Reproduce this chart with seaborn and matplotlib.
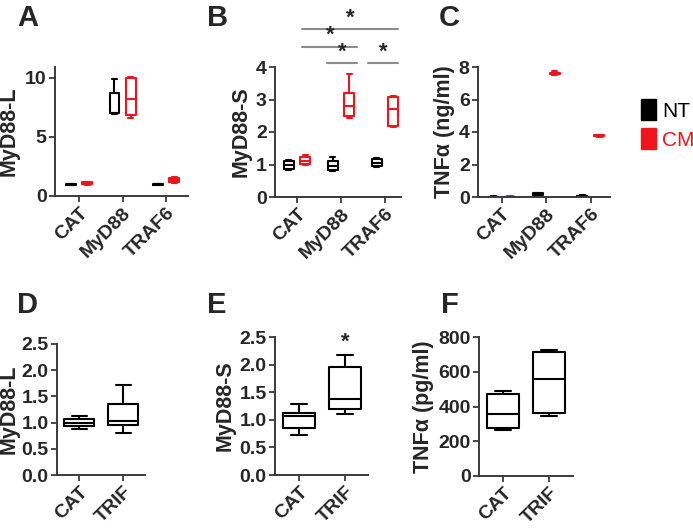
import pandas as pd
import numpy as np
import matplotlib
matplotlib.use("Agg")
import matplotlib.pyplot as plt
import seaborn as sns
from matplotlib.patches import Patch

# valores (min, q1, mediana, q3, max por caja)
groups_top = ["CAT", "MyD88", "TRAF6"]
groups_bot = ["CAT", "TRIF"]
treatments = ["NT", "CM"]

myd88_l_nt = [[0.93, 0.97, 1.0, 1.02, 1.05], [6.95, 7.0, 7.05, 8.7, 9.9], [0.92, 0.96, 0.98, 1.0, 1.03]]
myd88_l_cm = [[0.95, 1.0, 1.08, 1.15, 1.2], [6.55, 6.85, 8.2, 9.95, 10.05], [1.1, 1.2, 1.35, 1.5, 1.6]]

myd88_s_nt = [[0.83, 0.86, 0.97, 1.1, 1.13], [0.8, 0.84, 0.96, 1.1, 1.24], [0.92, 0.95, 1.06, 1.17, 1.2]]
myd88_s_cm = [[0.98, 1.02, 1.12, 1.22, 1.3], [2.42, 2.48, 2.8, 3.2, 3.8], [2.15, 2.2, 2.72, 3.08, 3.12]]

tnf_ng_nt = [[0.0, 0.01, 0.02, 0.03, 0.04], [0.08, 0.1, 0.15, 0.22, 0.25], [0.02, 0.04, 0.06, 0.08, 0.1]]
tnf_ng_cm = [[0.0, 0.01, 0.02, 0.03, 0.05], [7.5, 7.55, 7.6, 7.65, 7.75], [3.7, 3.73, 3.76, 3.8, 3.82]]

d_myd88_l = [[0.87, 0.94, 1.0, 1.06, 1.13], [0.8, 0.95, 1.04, 1.36, 1.71]]
e_myd88_s = [[0.72, 0.85, 1.07, 1.13, 1.28], [1.1, 1.2, 1.37, 1.95, 2.17]]
f_tnf_pg = [[267, 274, 355, 470, 489], [343, 364, 560, 714, 723]]

palette = {"NT": "black", "CM": "#f0141c"}

sns.set_style("ticks")
plt.rcParams["font.family"] = ["Liberation Sans", "DejaVu Sans"]
plt.rcParams["font.weight"] = "bold"

W, H = 693, 529
fig = plt.figure(figsize=(W / 100, H / 100), dpi=100)


def px_axes(l, t, r, b):
    return fig.add_axes([l / W, 1 - b / H, (r - l) / W, (b - t) / H])


def long_df(groups, nt, cm):
    rows = []
    for g, vals in zip(groups, nt):
        rows += [(g, "NT", v) for v in vals]
    for g, vals in zip(groups, cm):
        rows += [(g, "CM", v) for v in vals]
    return pd.DataFrame(rows, columns=["grupo", "trat", "valor"])


def simple_df(groups, data):
    rows = []
    for g, vals in zip(groups, data):
        rows += [(g, v) for v in vals]
    return pd.DataFrame(rows, columns=["grupo", "valor"])


def style_ax(ax, ylabel, yticks, ylim, xlim, yfmt, label_x=None):
    sns.despine(ax=ax)
    for s in ["left", "bottom"]:
        ax.spines[s].set_linewidth(1.4)
        ax.spines[s].set_color("#3a3a3a")
    ax.tick_params(direction="out", length=4, width=1.3, color="#3a3a3a", pad=2)
    ax.set_ylim(*ylim)
    ax.set_xlim(*xlim)
    ax.set_yticks(yticks)
    ax.set_yticklabels([yfmt.format(t) for t in yticks], fontsize=14, fontweight="bold")
    ax.set_xlabel("")
    ax.set_ylabel(ylabel, fontsize=15.5, fontweight="bold", labelpad=3)
    if label_x is not None:
        # borde derecho de la etiqueta en píxeles de la figura
        l = ax.get_position().x0 * W
        w = ax.get_position().width * W
        ax.yaxis.set_label_coords((label_x - l) / w, 0.5)
    ax.tick_params(axis="x", labelrotation=45, labelsize=14)
    plt.setp(ax.get_xticklabels(), ha="right", rotation_mode="anchor", fontweight="bold")
    if ax.get_legend() is not None:
        ax.get_legend().remove()


def hue_box(ax, df):
    sns.boxplot(data=df, x="grupo", y="valor", hue="trat", hue_order=treatments,
                palette=palette, fill=False, whis=(0, 100), width=0.75, gap=0.4,
                linewidth=1.5, ax=ax, legend=False)


def plain_box(ax, df):
    sns.boxplot(data=df, x="grupo", y="valor", color="black", fill=False,
                whis=(0, 100), width=0.68, linewidth=1.5, ax=ax)


# Panel A
ax_a = px_axes(55, 67, 188, 196)
hue_box(ax_a, long_df(groups_top, myd88_l_nt, myd88_l_cm))
style_ax(ax_a, "MyD88-L", [0, 5, 10], (0, 10.9), (-0.55, 2.5), "{:d}", label_x=20)

# Panel B
ax_b = px_axes(275, 67, 401, 197)
hue_box(ax_b, long_df(groups_top, myd88_s_nt, myd88_s_cm))
style_ax(ax_b, "MyD88-S", [0, 1, 2, 3, 4], (0, 4), (-0.5, 2.36), "{:d}")

# barras de significancia
sig = [(0.12, 2.3, 5.17), (0.12, 1.37, 4.62), (0.69, 1.37, 4.11), (1.62, 2.3, 4.11)]
for x0, x1, y in sig:
    ax_b.plot([x0, x1], [y, y], color="#8c8c8c", lw=1.5, clip_on=False)
    ax_b.text((x0 + x1) / 2, y + 0.02, "*", ha="center", va="bottom",
              fontsize=16, fontweight="bold")

# Panel C
ax_c = px_axes(478, 67, 610, 197)
hue_box(ax_c, long_df(groups_top, tnf_ng_nt, tnf_ng_cm))
style_ax(ax_c, "TNFα (ng/ml)", [0, 2, 4, 6, 8], (0, 8), (-0.53, 2.43), "{:d}")

leg = fig.legend(handles=[Patch(facecolor=palette[t], edgecolor=palette[t]) for t in treatments],
                 labels=treatments, loc="upper left", bbox_to_anchor=(641 / W, 1 - 99 / H),
                 frameon=False, fontsize=15, handlelength=0.7, handleheight=1.2,
                 handletextpad=0.3, labelspacing=0.35, borderpad=0, borderaxespad=0)
for t, txt in zip(treatments, leg.get_texts()):
    txt.set_color(palette[t])
    txt.set_fontweight("normal")

# Panel D
ax_d = px_axes(57, 344, 145, 475)
plain_box(ax_d, simple_df(groups_bot, d_myd88_l))
style_ax(ax_d, "MyD88-L", [0, 0.5, 1.0, 1.5, 2.0, 2.5], (0, 2.5), (-0.5, 1.49), "{:.1f}",
         label_x=20)

# Panel E
ax_e = px_axes(275, 337, 368, 475)
plain_box(ax_e, simple_df(groups_bot, e_myd88_s))
style_ax(ax_e, "MyD88-S", [0, 0.5, 1.0, 1.5, 2.0, 2.5], (0, 2.5), (-0.52, 1.5), "{:.1f}")
ax_e.text(1, max(e_myd88_s[1]) + 0.04, "*", ha="center", va="bottom",
          fontsize=16, fontweight="bold")

# Panel F
ax_f = px_axes(479, 337, 573, 476)
plain_box(ax_f, simple_df(groups_bot, f_tnf_pg))
style_ax(ax_f, "TNFα (pg/ml)", [0, 200, 400, 600, 800], (0, 800), (-0.52, 1.52), "{:d}")

# letras de los paneles
for letra, x, y in [("A", 17, 26), ("B", 207, 26), ("C", 439, 26),
                    ("D", 17, 313), ("E", 207, 313), ("F", 441, 313)]:
    fig.text(x / W, 1 - y / H, letra, fontsize=21, fontweight="bold", va="baseline")

fig.savefig("out.png", dpi=100)
